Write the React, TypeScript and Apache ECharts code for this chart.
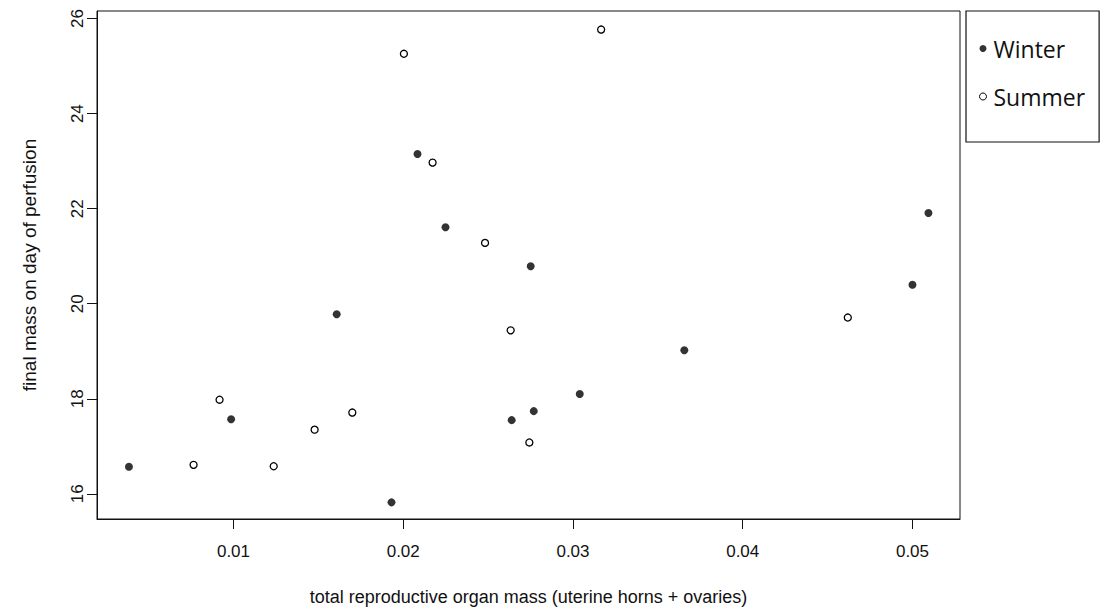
import React, { useEffect, useRef } from "react";
import * as echarts from "echarts";

// Winter (filled points)
const winterX = [0.00384, 0.00986, 0.01608, 0.01931, 0.02084, 0.02249, 0.02639, 0.02751, 0.02769, 0.0304, 0.03656, 0.05, 0.05094];
const winterY = [16.57, 17.57, 19.78, 15.82, 23.15, 21.61, 17.55, 20.79, 17.74, 18.1, 19.02, 20.4, 21.91];

// Summer (open points)
const summerX = [0.00765, 0.00918, 0.01237, 0.01478, 0.017, 0.02004, 0.02173, 0.02482, 0.02633, 0.02743, 0.03166, 0.04619];
const summerY = [16.61, 17.98, 16.58, 17.35, 17.71, 25.26, 22.97, 21.28, 19.44, 17.08, 25.77, 19.71];

const xTicks = [0.01, 0.02, 0.03, 0.04, 0.05];
const yTicks = [16, 18, 20, 22, 24, 26];

const seriesNames = ["Winter", "Summer"];
const xTitle = "total reproductive organ mass (uterine horns + ovaries)";
const yTitle = "final mass on day of perfusion";

const FONT = "'Liberation Sans', Arial, sans-serif";

export default function App() {
  const ref = useRef<HTMLDivElement>(null);
  useEffect(() => {
    if (!ref.current) return;
    const chart = echarts.init(ref.current, undefined, { renderer: "svg" });
    const pairs = (xs: number[], ys: number[]) => xs.map((x, i) => [x, ys[i]]);
    chart.setOption({
      animation: false,
      backgroundColor: "#fff",
      grid: {
        left: 97,
        top: 11,
        right: 146,
        bottom: 95,
        show: true,
        borderColor: "#111",
        borderWidth: 1,
      },
      legend: {
        orient: "vertical",
        left: 966,
        top: 11,
        width: 137,
        padding: [26, 14, 34, 13],
        itemGap: 25,
        itemWidth: 7,
        itemHeight: 7,
        borderColor: "#111",
        borderWidth: 1.2,
        textStyle: { fontFamily: "'Open Sans', sans-serif", fontSize: 23, color: "#111", padding: [0, 0, 0, 2] },
        data: [
          { name: seriesNames[0], icon: "circle", itemStyle: { color: "#000", borderWidth: 0 } },
          { name: seriesNames[1], icon: "circle", itemStyle: { color: "#fff", borderColor: "#000", borderWidth: 1 } },
        ],
      },
      xAxis: {
        type: "value",
        min: 0.00196,
        max: 0.0528,
        name: xTitle,
        nameLocation: "middle",
        nameGap: 69,
        nameTextStyle: { fontFamily: FONT, fontSize: 18, color: "#111" },
        axisLine: { show: true, onZero: false, lineStyle: { color: "#111", width: 1 } },
        axisTick: { show: true, length: 10, customValues: xTicks, lineStyle: { color: "#111" } },
        axisLabel: { customValues: xTicks, margin: 24, fontFamily: FONT, fontSize: 17, color: "#111", formatter: (v: number) => String(+v.toFixed(2)) },
        splitLine: { show: false },
      },
      yAxis: {
        type: "value",
        min: 15.47,
        max: 26.16,
        name: yTitle,
        nameLocation: "middle",
        nameRotate: 90,
        nameGap: 58,
        nameTextStyle: { fontFamily: FONT, fontSize: 19, color: "#111" },
        axisLine: { show: true, onZero: false, lineStyle: { color: "#111", width: 1 } },
        axisTick: { show: true, length: 10, customValues: yTicks, lineStyle: { color: "#111" } },
        axisLabel: { customValues: yTicks, rotate: 90, margin: 11, fontFamily: FONT, fontSize: 17, color: "#111" },
        splitLine: { show: false },
      },
      series: [
        {
          name: seriesNames[0],
          type: "scatter",
          symbol: "circle",
          symbolSize: 8,
          itemStyle: { color: "#000" },
          data: pairs(winterX, winterY),
        },
        {
          name: seriesNames[1],
          type: "scatter",
          symbol: "circle",
          symbolSize: 7,
          itemStyle: { color: "#fff", borderColor: "#000", borderWidth: 1.3, opacity: 1 },
          data: pairs(summerX, summerY),
        },
      ],
    });
    return () => chart.dispose();
  }, []);
  return <div ref={ref} style={{ position: "fixed", left: 0, top: 0, width: 1106, height: 614 }} />;
}
